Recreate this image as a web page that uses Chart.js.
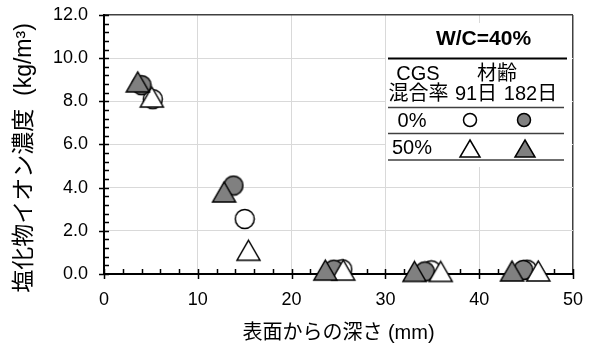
<!DOCTYPE html>
<html>
<head>
<meta charset="utf-8">
<script src="https://cdn.jsdelivr.net/npm/chart.js@4"></script>
<style>
  html, body { margin: 0; padding: 0; background: #fff; }
  #wrap { width: 593px; height: 345px; }
</style>
</head>
<body>
<div id="wrap"><canvas id="chloride" width="593" height="345"></canvas></div>
<script>
// depth from surface (mm) and chloride ion content (kg/m3) for each series
const depth0_91 = [5.2, 15.0, 25.4, 34.9, 45.1];
const cl0_91 = [8.1, 2.55, 0.22, 0.17, 0.2];
const depth0_182 = [4.0, 13.8, 24.5, 34.2, 44.7];
const cl0_182 = [8.75, 4.1, 0.2, 0.12, 0.19];
const depth50_91 = [5.1, 15.4, 25.5, 35.9, 46.3];
const cl50_91 = [8.2, 1.1, 0.18, 0.12, 0.14];
const depth50_182 = [3.6, 12.8, 23.6, 33.1, 43.5];
const cl50_182 = [8.9, 3.8, 0.18, 0.12, 0.14];

const yTicks = [0, 2, 4, 6, 8, 10, 12];
const xTicks = [0, 10, 20, 30, 40, 50];

const FONT = "'Liberation Sans', 'Noto Sans CJK JP', sans-serif";
const GRAY = '#808080';

function toPoints(xs, ys) {
    return xs.map((x, i) => ({ x: x, y: ys[i] }));
}

// marker images, drawn centred on the point
function makeCircle(r, fill) {
    const c = document.createElement('canvas');
    const s = Math.ceil(r * 2 + 3);
    c.width = s; c.height = s;
    const g = c.getContext('2d');
    g.beginPath();
    g.arc(s / 2, s / 2, r, 0, Math.PI * 2);
    g.fillStyle = fill;
    g.fill();
    g.lineWidth = 1.5;
    g.strokeStyle = '#000';
    g.stroke();
    return c;
}

function makeTriangle(w, h, fill) {
    const c = document.createElement('canvas');
    c.width = Math.ceil(w + 4); c.height = Math.ceil(h + 4);
    const g = c.getContext('2d');
    const cx = c.width / 2, cy = c.height / 2;
    g.beginPath();
    g.moveTo(cx, cy - h / 2);
    g.lineTo(cx + w / 2, cy + h / 2);
    g.lineTo(cx - w / 2, cy + h / 2);
    g.closePath();
    g.fillStyle = fill;
    g.fill();
    g.lineWidth = 1.5;
    g.lineJoin = 'miter';
    g.strokeStyle = '#000';
    g.stroke();
    return c;
}

const openCircle = makeCircle(9.5, '#fff');
const grayCircle = makeCircle(9.5, GRAY);
const openTri = makeTriangle(23, 20, '#fff');
const grayTri = makeTriangle(23, 20, GRAY);

// tick marks: majors cross the axis, minors point into the plot
const axisTicks = {
    id: 'axisTicks',
    beforeDatasetsDraw(chart) {
        const { ctx, scales: { x, y } } = chart;
        ctx.save();
        ctx.strokeStyle = '#000';
        ctx.lineWidth = 1.5;
        ctx.beginPath();
        for (let v = 0; v <= 12.001; v += 0.4) {
            const py = Math.round(y.getPixelForValue(v)) + 0.5;
            const major = Math.abs(v / 2 - Math.round(v / 2)) < 1e-6;
            ctx.moveTo(x.left - (major ? 5 : 0), py);
            ctx.lineTo(x.left + 5, py);
        }
        for (let v = 0; v <= 50.001; v += 2) {
            const px = Math.round(x.getPixelForValue(v)) + 0.5;
            const major = v % 10 === 0;
            ctx.moveTo(px, y.bottom + (major ? 5 : 0));
            ctx.lineTo(px, y.bottom - 5);
        }
        ctx.stroke();
        ctx.restore();
    }
};

// vertical y-axis title with a wide gap before the unit
const yTitle = {
    id: 'yTitle',
    afterDraw(chart) {
        const ctx = chart.ctx;
        ctx.save();
        ctx.translate(25, 158);
        ctx.rotate(-Math.PI / 2);
        ctx.fillStyle = '#000';
        ctx.font = '23px ' + FONT;
        ctx.textAlign = 'center';
        ctx.textBaseline = 'middle';
        ctx.fillText('塩化物イオン濃度  (kg/m³)', 0, 0);
        ctx.restore();
    }
};

// table-style legend in the upper right of the plot
const legendTable = {
    id: 'legendTable',
    afterDatasetsDraw(chart) {
        const ctx = chart.ctx;
        ctx.save();
        ctx.fillStyle = '#fff';
        ctx.fillRect(386, 23, 186, 144);

        ctx.fillStyle = '#000';
        ctx.textAlign = 'center';
        ctx.textBaseline = 'middle';
        ctx.font = 'bold 21px ' + FONT;
        ctx.fillText('W/C=40%', 483.5, 39.5);

        ctx.font = '20px ' + FONT;
        ctx.fillText('CGS', 418, 74);
        ctx.fillText('材齢', 497, 74);
        ctx.fillText('混合率', 418.5, 94.5);
        ctx.fillText('91日', 476, 94.5);
        ctx.fillText('182日', 530.5, 94.5);
        ctx.fillText('0%', 412, 121);
        ctx.fillText('50%', 412, 148.5);

        ctx.strokeStyle = '#000';
        ctx.lineWidth = 2;
        ctx.beginPath();
        ctx.moveTo(388, 58.5);
        ctx.lineTo(567, 58.5);
        ctx.stroke();

        ctx.strokeStyle = '#404040';
        ctx.lineWidth = 1.5;
        ctx.beginPath();
        [107.5, 133.5, 160].forEach(ly => {
            ctx.moveTo(388, ly);
            ctx.lineTo(564, ly);
        });
        ctx.stroke();

        const marks = [
            [makeCircle(6.5, '#fff'), 470, 120],
            [makeCircle(6.5, GRAY), 524, 120],
            [makeTriangle(20, 17, '#fff'), 470, 148],
            [makeTriangle(20, 17, GRAY), 525, 148]
        ];
        marks.forEach(([img, mx, my]) => {
            ctx.drawImage(img, Math.round(mx - img.width / 2), Math.round(my - img.height / 2));
        });
        ctx.restore();
    }
};

function series(label, xs, ys, style, order) {
    return {
        label: label,
        data: toPoints(xs, ys),
        pointStyle: style,
        pointRadius: 10,
        pointHoverRadius: 10,
        showLine: false,
        clip: false,
        order: order
    };
}

const ctx = document.getElementById('chloride').getContext('2d');
new Chart(ctx, {
    type: 'scatter',
    data: {
        datasets: [
            series('0% 91日', depth0_91, cl0_91, openCircle, 4),
            series('0% 182日', depth0_182, cl0_182, grayCircle, 3),
            series('50% 91日', depth50_91, cl50_91, openTri, 2),
            series('50% 182日', depth50_182, cl50_182, grayTri, 1)
        ]
    },
    options: {
        responsive: false,
        animation: false,
        layout: {
            padding: { top: 15, right: 20, left: 0, bottom: 0 }
        },
        plugins: {
            legend: { display: false },
            tooltip: { enabled: false }
        },
        scales: {
            x: {
                type: 'linear',
                min: 0,
                max: 50,
                afterFit: scale => {
                    scale.height = 71;
                    scale.paddingLeft = 0;
                    scale.paddingRight = 0;
                },
                afterBuildTicks: scale => { scale.ticks = xTicks.map(v => ({ value: v })); },
                ticks: {
                    padding: 15,
                    color: '#000',
                    font: { size: 18, family: FONT }
                },
                grid: {
                    drawTicks: false,
                    color: c => c.tick.value === 50 ? '#404040' : (c.tick.value === 0 ? 'transparent' : '#d9d9d9'),
                    lineWidth: c => c.tick.value === 50 ? 1.5 : 1
                },
                border: { display: true, color: '#000', width: 2 },
                title: {
                    display: true,
                    text: '表面からの深さ (mm)',
                    color: '#000',
                    font: { size: 20, family: FONT },
                    padding: { top: 0, bottom: 0 }
                }
            },
            y: {
                type: 'linear',
                min: 0,
                max: 12,
                afterFit: scale => {
                    scale.width = 104;
                    scale.paddingTop = 0;
                    scale.paddingBottom = 0;
                },
                afterBuildTicks: scale => { scale.ticks = yTicks.map(v => ({ value: v })); },
                ticks: {
                    padding: 16,
                    color: '#000',
                    font: { size: 18, family: FONT },
                    callback: v => v.toFixed(1)
                },
                grid: {
                    drawTicks: false,
                    color: c => c.tick.value === 12 ? '#404040' : (c.tick.value === 0 ? 'transparent' : '#d9d9d9'),
                    lineWidth: c => c.tick.value === 12 ? 1.5 : 1
                },
                border: { display: true, color: '#000', width: 2 }
            }
        }
    },
    plugins: [axisTicks, legendTable, yTitle]
});
</script>
</body>
</html>
